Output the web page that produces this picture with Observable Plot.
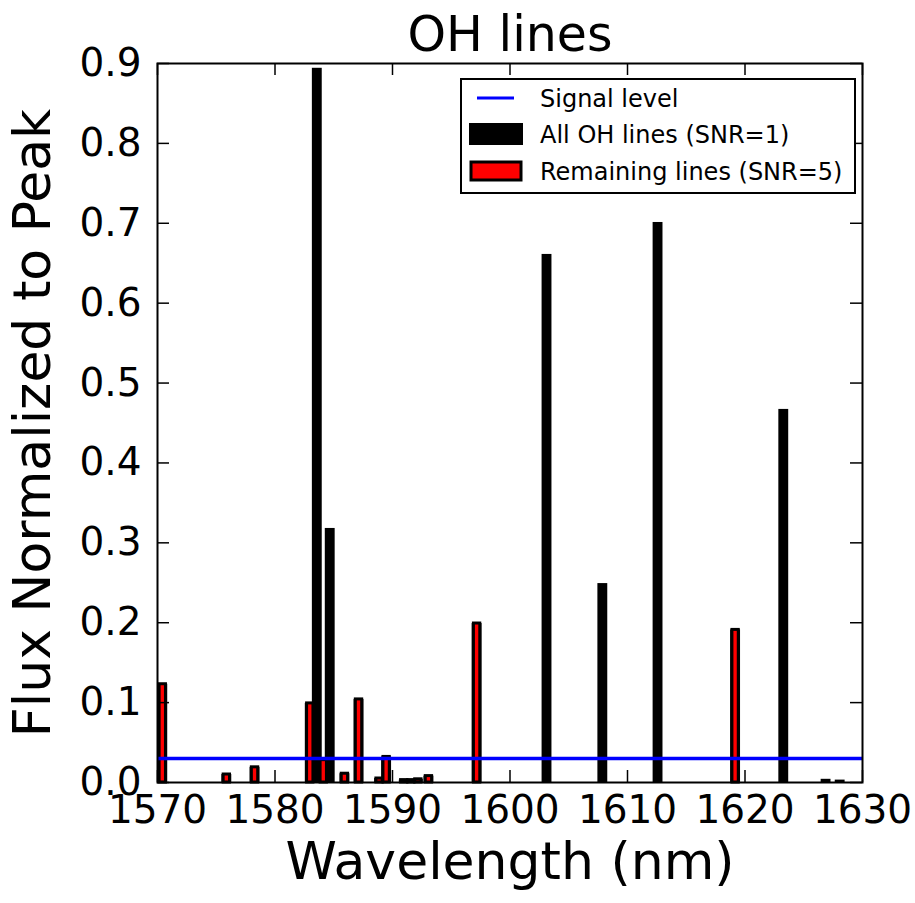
<!DOCTYPE html>
<html>
<head>
<meta charset="utf-8">
<script src="https://cdn.jsdelivr.net/npm/d3@7"></script>
<script src="https://cdn.jsdelivr.net/npm/@observablehq/plot@0.6"></script>
<style>
  html, body { margin: 0; padding: 0; background: #fff; }
  #wrap { position: relative; width: 915px; height: 903px; font-family: "DejaVu Sans", sans-serif; }
  #legend { position: absolute; left: 460px; top: 78px; }
</style>
</head>
<body>
<div id="wrap"></div>
<script>
// ---- data ----
const titleText = "OH lines";
const xLabel = "Wavelength (nm)";
const yLabel = "Flux Normalized to Peak";
const signalLevel = 0.03;

// All OH lines (SNR=1)
const allWavelength = [1570.45, 1575.9, 1578.3, 1583.0, 1583.6, 1584.15, 1584.7, 1585.95, 1587.15, 1588.9, 1589.5, 1591.0, 1591.6, 1592.2, 1593.1, 1597.2, 1603.15, 1607.9, 1612.6, 1619.2, 1623.3, 1626.9, 1628.1];
const allFlux       = [0.123,   0.010,  0.019,  0.099,  0.894,  0.028,   0.318,  0.011,   0.104,   0.005,  0.032,  0.003,  0.003,  0.004,  0.008,  0.199,  0.661,   0.249,  0.701,  0.191,  0.467,  0.004,  0.003];

// Remaining lines (SNR=5)
const remWavelength = [1570.45, 1575.9, 1578.3, 1583.0, 1584.15, 1585.95, 1587.15, 1588.9, 1589.5, 1591.0, 1591.6, 1592.2, 1593.1, 1597.2, 1619.2];
const remFlux       = [0.123,   0.010,  0.019,  0.099,  0.028,   0.011,   0.104,   0.005,  0.032,  0.003,  0.003,  0.004,  0.008,  0.199,  0.191];

const xTicks = [1570, 1580, 1590, 1600, 1610, 1620, 1630];
const yTicks = [0.0, 0.1, 0.2, 0.3, 0.4, 0.5, 0.6, 0.7, 0.8, 0.9];

const legendLabels = ["Signal level", "All OH lines (SNR=1)", "Remaining lines (SNR=5)"];

// ---- build tables ----
const allLines = allWavelength.map((w, i) => ({w, v: allFlux[i]}));
const remLines = remWavelength.map((w, i) => ({w, v: remFlux[i]}));

const W = 915, H = 903;
const mL = 157, mR = 53, mT = 63, mB = 121;
const frameH = H - mT - mB;
const frameW = W - mL - mR;
const tickLen = 12;
const blackHalf = 0.42;  // bar half-width (nm)
const redHalf = 0.27;

const plot = Plot.plot({
  width: W,
  height: H,
  marginLeft: mL,
  marginRight: mR,
  marginTop: mT,
  marginBottom: mB,
  style: {fontFamily: "DejaVu Sans, sans-serif", background: "white", color: "black"},
  x: {domain: [1570, 1630], label: null},
  y: {domain: [0, 0.9], label: null},
  marks: [
    // black bars (all lines)
    Plot.rect(allLines, {x1: d => d.w - blackHalf, x2: d => d.w + blackHalf, y1: 0, y2: "v", fill: "black"}),
    // red bars (remaining lines)
    Plot.rect(remLines, {x1: d => d.w - redHalf, x2: d => d.w + redHalf, y1: 0, y2: "v", fill: "#ff0000", stroke: "black", strokeWidth: 3}),
    // signal level
    Plot.ruleY([signalLevel], {stroke: "#0000ff", strokeWidth: 3.5}),
    // inward ticks
    Plot.ruleX(xTicks, {x: d => d, insetTop: frameH - tickLen, stroke: "black", strokeWidth: 1.5}),
    Plot.ruleX(xTicks, {x: d => d, insetBottom: frameH - tickLen, stroke: "black", strokeWidth: 1.5}),
    Plot.ruleY(yTicks, {y: d => d, insetRight: frameW - tickLen, stroke: "black", strokeWidth: 1.5}),
    Plot.ruleY(yTicks, {y: d => d, insetLeft: frameW - tickLen, stroke: "black", strokeWidth: 1.5}),
    // tick labels
    Plot.axisX(xTicks, {anchor: "bottom", tickSize: 0, tickPadding: 13, fontSize: 39, tickFormat: d => String(d), label: null}),
    Plot.axisY(yTicks, {anchor: "left", tickSize: 0, tickPadding: 16, fontSize: 39, tickFormat: d => d.toFixed(1), label: null}),
    Plot.frame({stroke: "black", strokeWidth: 2}),
    // title & axis labels
    Plot.text([titleText], {frameAnchor: "top", dy: -28, fontSize: 49, lineAnchor: "middle", textAnchor: "middle", fill: "black"}),
    Plot.text([xLabel], {frameAnchor: "bottom", dy: 80, fontSize: 52, lineAnchor: "middle", textAnchor: "middle", fill: "black"}),
    Plot.text([yLabel], {frameAnchor: "left", dx: -124, rotate: -90, fontSize: 52, lineAnchor: "middle", textAnchor: "middle", fill: "black"})
  ]
});

const wrap = document.getElementById("wrap");
wrap.appendChild(plot);

// ---- legend ----
const ns = "http://www.w3.org/2000/svg";
const lg = document.createElementNS(ns, "svg");
lg.setAttribute("id", "legend");
lg.setAttribute("width", 397);
lg.setAttribute("height", 117);
const rows = [20, 56, 93];
lg.innerHTML = `
  <rect x="1" y="1" width="394" height="114" fill="white" stroke="black" stroke-width="2"/>
  <line x1="17" x2="54" y1="${rows[0]}" y2="${rows[0]}" stroke="#0000ff" stroke-width="3"/>
  <rect x="10" y="${rows[1]-10}" width="52" height="20" fill="black" stroke="black" stroke-width="2"/>
  <rect x="11" y="${rows[2]-9}" width="50" height="18" fill="#ff0000" stroke="black" stroke-width="3"/>
`;
legendLabels.forEach((t, i) => {
  const tx = document.createElementNS(ns, "text");
  tx.setAttribute("x", 80);
  tx.setAttribute("y", rows[i] + 8.5);
  tx.setAttribute("font-family", "DejaVu Sans, sans-serif");
  tx.setAttribute("font-size", 24);
  tx.setAttribute("fill", "black");
  tx.textContent = t;
  lg.appendChild(tx);
});
wrap.appendChild(lg);
</script>
</body>
</html>
